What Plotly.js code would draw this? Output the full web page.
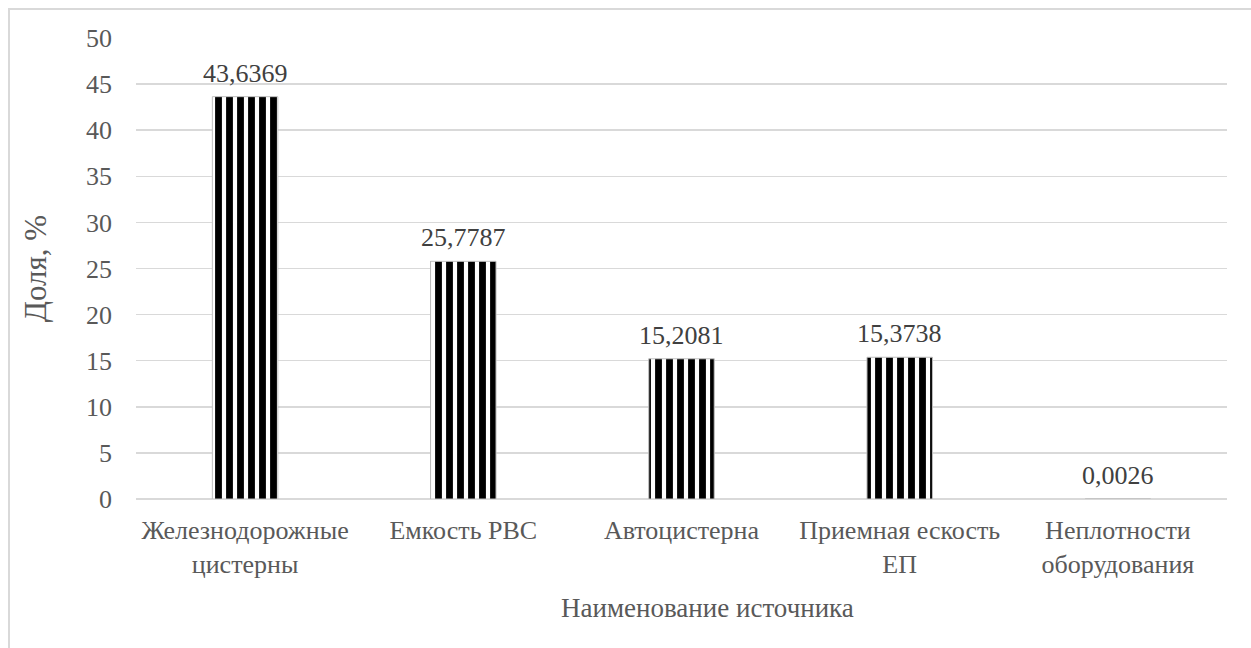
<!DOCTYPE html>
<html>
<head>
<meta charset="utf-8">
<script src="https://cdn.plot.ly/plotly-3.0.1.min.js"></script>
<style>
  html, body { margin: 0; padding: 0; background: #ffffff; }
  #frame { position: absolute; left: 8px; top: 8px; width: 1300px; height: 700px;
           border-left: 2px solid #d9d9d9; border-top: 2px solid #d9d9d9; }
  #chart { position: absolute; left: 0; top: 0; width: 1251px; height: 648px; }
</style>
</head>
<body>
<div id="frame"></div>
<div id="chart"></div>
<script>
// Источники выбросов и их доля, %
const sources = [
  "Железнодорожные<br>цистерны",
  "Емкость РВС",
  "Автоцистерна",
  "Приемная ескость<br>ЕП",
  "Неплотности<br>оборудования"
];
const shares = [43.6369, 25.7787, 15.2081, 15.3738, 0.0026];
const yTicks = [0, 5, 10, 15, 20, 25, 30, 35, 40, 45, 50];

const serif = "Liberation Serif, Times New Roman, serif";

const trace = {
  type: "bar",
  x: sources,
  y: shares,
  marker: {
    color: "#ffffff",
    line: { color: "#bfbfbf", width: 1 },
    pattern: { shape: "|", fgcolor: "#000000", bgcolor: "#ffffff", size: 11, solidity: 0.62 }
  },
  hoverinfo: "skip"
};

// Подписи значений над столбцами (десятичная запятая)
const valueLabels = sources.map((s, i) => ({
  x: s,
  y: shares[i],
  xref: "x",
  yref: "y",
  text: shares[i].toFixed(4).replace(".", ","),
  showarrow: false,
  yanchor: "bottom",
  yshift: 7,
  font: { family: serif, size: 26, color: "#404040" }
}));

const xTitle = {
  text: "Наименование источника",
  xref: "paper",
  yref: "paper",
  x: 0.524,
  y: 0,
  xanchor: "center",
  yanchor: "middle",
  yshift: -109,
  showarrow: false,
  font: { family: serif, size: 27, color: "#595959" }
};

const layout = {
  width: 1251,
  height: 648,
  margin: { l: 136, r: 24, t: 38, b: 149 },
  paper_bgcolor: "rgba(0,0,0,0)",
  plot_bgcolor: "rgba(0,0,0,0)",
  bargap: 0.7,
  showlegend: false,
  font: { family: serif, color: "#595959" },
  annotations: valueLabels.concat([xTitle]),
  xaxis: {
    type: "category",
    tickfont: { family: serif, size: 26, color: "#595959" },
    ticklabelstandoff: 13,
    showgrid: false,
    showline: false,
    zeroline: false
  },
  yaxis: {
    range: [0, 50],
    tickvals: yTicks,
    tickfont: { family: serif, size: 26, color: "#595959" },
    ticklabelstandoff: 23,
    showgrid: true,
    gridcolor: "#d9d9d9",
    gridwidth: 1.5,
    zeroline: true,
    zerolinecolor: "#d9d9d9",
    zerolinewidth: 1.5,
    showline: false,
    title: { text: "Доля, %", font: { family: serif, size: 31, color: "#595959" }, standoff: 30 }
  }
};

Plotly.newPlot("chart", [trace], layout, { displayModeBar: false, staticPlot: true });
</script>
</body>
</html>
